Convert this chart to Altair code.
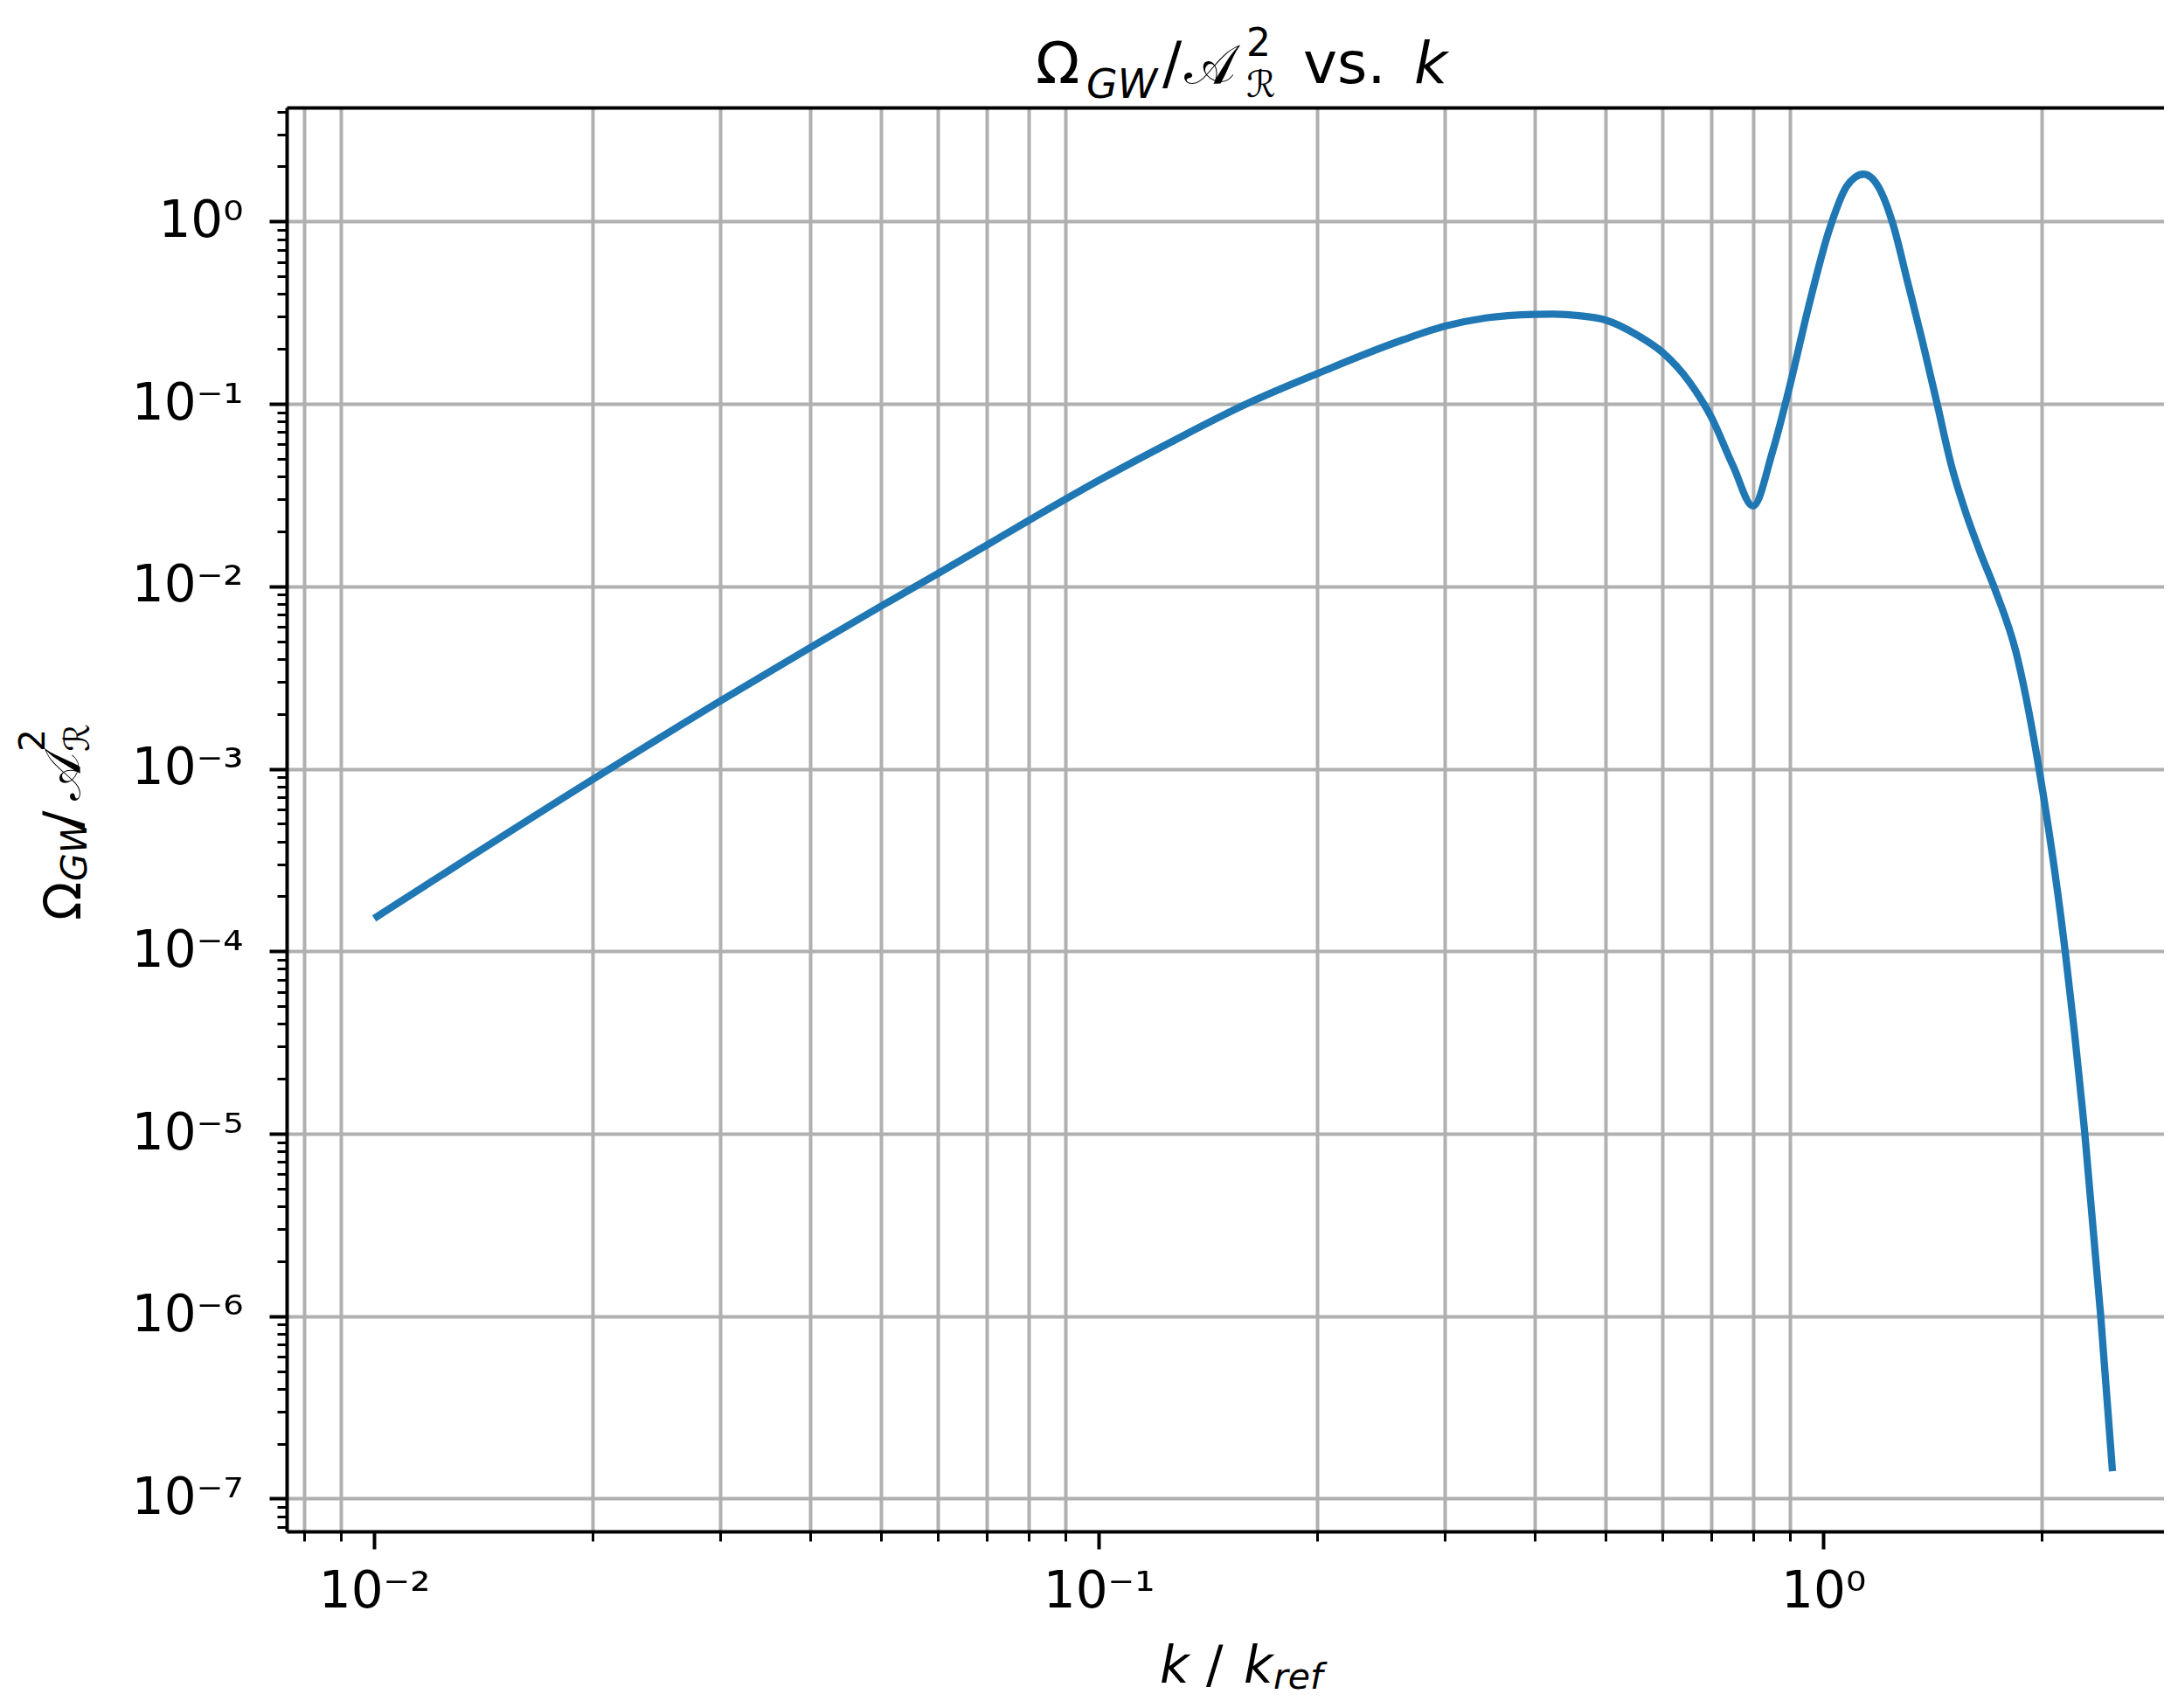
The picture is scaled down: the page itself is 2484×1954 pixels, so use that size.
import altair as alt
import pandas as pd

# ---------------- data ----------------
K = [0.01, 0.02, 0.03, 0.04, 0.05, 0.06, 0.07, 0.08, 0.1, 0.125, 0.16, 0.2,
     0.263, 0.3, 0.342, 0.4, 0.42, 0.46, 0.5, 0.553, 0.6, 0.653, 0.7, 0.751,
     0.8, 0.851, 0.9, 0.955, 1.019, 1.077, 1.106, 1.137, 1.168, 1.204, 1.249,
     1.308, 1.37, 1.436, 1.503, 1.574, 1.649, 1.727, 1.844, 1.985, 2.157,
     2.296, 2.415, 2.507]
OMEGA = [1.514e-4, 8.71e-4, 2.344e-3, 4.624e-3, 7.762e-3, 1.175e-2, 1.679e-2,
         2.291e-2, 3.802e-2, 6.095e-2, 0.1, 0.1462, 0.2244, 0.2661, 0.2958,
         0.3097, 0.3105, 0.3041, 0.2884, 0.2388, 0.1914, 0.1324, 0.0851, 0.0456,
         0.02754, 0.0547, 0.1276, 0.3443, 0.8974, 1.556, 1.746, 1.816, 1.722,
         1.429, 0.955, 0.4624, 0.2213, 0.1, 0.0457, 0.02512, 0.01514, 0.00955,
         0.004395, 0.001, 1e-4, 1e-5, 1e-6, 1.413e-7]

X_MAJOR = [0.01, 0.1, 1.0]
X_MAJOR_LABELS = ["10⁻²", "10⁻¹", "10⁰"]
X_MINOR = [0.008, 0.009, 0.02, 0.03, 0.04, 0.05, 0.06, 0.07, 0.08, 0.09,
           0.2, 0.3, 0.4, 0.5, 0.6, 0.7, 0.8, 0.9, 2.0]
Y_MAJOR = [1e-7, 1e-6, 1e-5, 1e-4, 1e-3, 1e-2, 1e-1, 1.0]
Y_MAJOR_LABELS = ["10⁻⁷", "10⁻⁶", "10⁻⁵", "10⁻⁴", "10⁻³", "10⁻²", "10⁻¹", "10⁰"]
Y_MINOR_ALL = [m * 10.0 ** d for d in range(-8, 1) for m in range(2, 10)]

X_DOMAIN = [0.007573, 2.953]
Y_DOMAIN = [6.61e-8, 4.211]
Y_MINOR = [v for v in Y_MINOR_ALL if Y_DOMAIN[0] <= v <= Y_DOMAIN[1]]

FONT = "DejaVu Sans"
W, H = 2148, 1629


def label_expr(values, labels):
    parts = [f"abs(datum.value / {v} - 1) < 0.001 ? '{l}'" for v, l in zip(values, labels)]
    return " : ".join(parts) + " : ''"


df = pd.DataFrame({"k": K, "omega": OMEGA})
x_scale = alt.Scale(type="log", domain=X_DOMAIN, nice=False)
y_scale = alt.Scale(type="log", domain=Y_DOMAIN, nice=False)
base = alt.Chart(df)

minor = base.mark_line(strokeOpacity=0).encode(
    x=alt.X("k:Q", scale=x_scale, axis=alt.Axis(
        orient="bottom", values=X_MINOR, labels=False, tickSize=11, tickWidth=3,
        tickColor="black", domain=False, grid=True, gridColor="#b0b0b0",
        gridWidth=4, gridOpacity=1, title=None)),
    y=alt.Y("omega:Q", scale=y_scale, axis=alt.Axis(
        orient="left", values=Y_MINOR, labels=False, tickSize=11, tickWidth=3,
        tickColor="black", domain=False, grid=False, title=None)),
)

line = base.mark_line(color="#1f77b4", strokeWidth=8.3, interpolate="monotone").encode(
    x=alt.X("k:Q", scale=x_scale, axis=alt.Axis(
        orient="bottom", values=X_MAJOR, labelExpr=label_expr(X_MAJOR, X_MAJOR_LABELS),
        tickSize=20, tickWidth=4, tickColor="black", domain=True, domainColor="black",
        domainWidth=4, grid=False, labelFont=FONT, labelFontSize=58, labelColor="black",
        labelPadding=20, labelFlush=False, labelOverlap=False, title=None)),
    y=alt.Y("omega:Q", scale=y_scale, axis=alt.Axis(
        orient="left", values=Y_MAJOR, labelExpr=label_expr(Y_MAJOR, Y_MAJOR_LABELS),
        tickSize=20, tickWidth=4, tickColor="black", domain=True, domainColor="black",
        domainWidth=4, grid=True, gridColor="#b0b0b0", gridWidth=4, gridOpacity=1,
        labelFont=FONT, labelFontSize=58, labelColor="black", labelPadding=30,
        labelBaseline="middle", labelFlush=False, labelOverlap=False, title=None)),
)

top = base.mark_line(strokeOpacity=0).encode(
    x=alt.X("k:Q", scale=x_scale, axis=alt.Axis(
        orient="top", labels=False, ticks=False, grid=False, domain=True,
        domainColor="black", domainWidth=4, title=None)),
    y=alt.Y("omega:Q", scale=y_scale, axis=None),
)


def piece(text, x, y, size, italic=False, angle=0):
    return alt.Chart(alt.Data(values=[{}])).mark_text(
        text=text, align="left", baseline="alphabetic", font=FONT, fontSize=size,
        fontStyle="italic" if italic else "normal", angle=angle, color="black",
    ).encode(x=alt.value(x), y=alt.value(y))


pieces = [
    # title: Ω_GW / A_R^2 vs. k
    piece("Ω", 857, -28, 66),
    piece("GW", 915, -11, 46, italic=True),
    piece("/", 1002, -28, 66),
    piece("𝒜", 1027, -28, 62),
    piece("2", 1098, -59, 44),
    piece("ℛ", 1098, -12, 42),
    piece("vs.", 1163, -28, 66),
    piece("k", 1290, -28, 66, italic=True),
    # x label: k / k_ref
    piece("k", 999, 1802, 58, italic=True),
    piece("/", 1052, 1802, 58),
    piece("k", 1095, 1802, 58, italic=True),
    piece("ref", 1129, 1809, 41, italic=True),
    # y label (rotated)
    piece("Ω", -236, 930, 58, angle=270),
    piece("GW", -229, 885, 41, italic=True, angle=270),
    piece("/", -236, 824, 58, angle=270),
    piece("𝒜", -236, 793, 58, angle=270),
    piece("2", -277, 737, 41, angle=270),
    piece("ℛ", -226, 737, 40, angle=270),
]

chart = alt.layer(minor, line, top, *pieces).resolve_axis(
    x="independent", y="independent"
).properties(
    width=W, height=H,
    padding={"left": 320, "top": 115, "right": 0, "bottom": 192},
    autosize=alt.AutoSizeParams(type="none"),
    background="white",
).configure_view(stroke=None)

chart.save("out.html", embed_options={"renderer": "svg", "actions": False})
